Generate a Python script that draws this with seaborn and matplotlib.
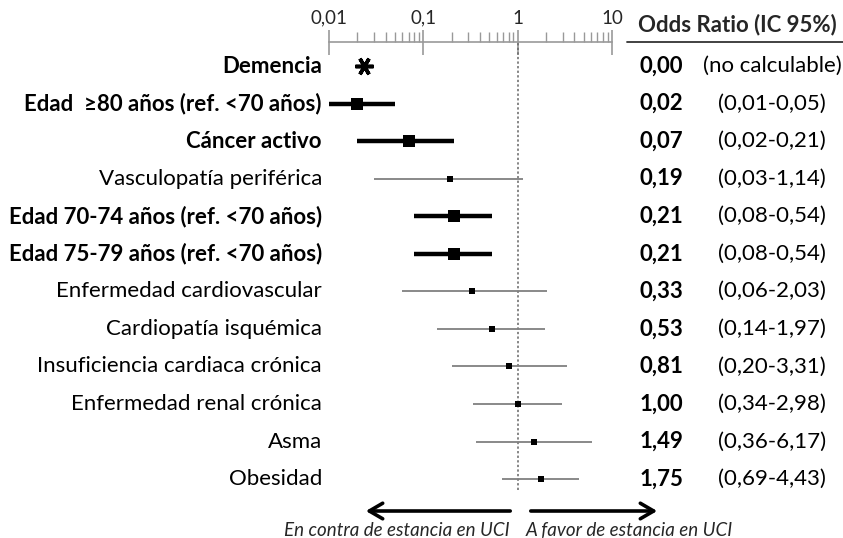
import matplotlib
matplotlib.use("Agg")
import matplotlib.pyplot as plt
import matplotlib.transforms as mtransforms
from matplotlib.ticker import LogLocator, NullFormatter, FixedLocator
import numpy as np
import pandas as pd
import seaborn as sns

labels = ["Demencia", "Edad  ≥80 años (ref. <70 años)", "Cáncer activo",
          "Vasculopatía periférica", "Edad 70-74 años (ref. <70 años)",
          "Edad 75-79 años (ref. <70 años)", "Enfermedad cardiovascular",
          "Cardiopatía isquémica", "Insuficiencia cardiaca crónica",
          "Enfermedad renal crónica", "Asma", "Obesidad"]
odds = [0.00, 0.02, 0.07, 0.19, 0.21, 0.21, 0.33, 0.53, 0.81, 1.00, 1.49, 1.75]
ci_low = [np.nan, 0.01, 0.02, 0.03, 0.08, 0.08, 0.06, 0.14, 0.20, 0.34, 0.36, 0.69]
ci_high = [np.nan, 0.05, 0.21, 1.14, 0.54, 0.54, 2.03, 1.97, 3.31, 2.98, 6.17, 4.43]
significant = [True, True, True, False, True, True, False, False, False, False, False, False]
or_text = ["0,00", "0,02", "0,07", "0,19", "0,21", "0,21", "0,33", "0,53", "0,81", "1,00", "1,49", "1,75"]
ci_text = ["(no calculable)", "(0,01-0,05)", "(0,02-0,21)", "(0,03-1,14)", "(0,08-0,54)",
           "(0,08-0,54)", "(0,06-2,03)", "(0,14-1,97)", "(0,20-3,31)", "(0,34-2,98)",
           "(0,36-6,17)", "(0,69-4,43)"]
demencia_marker_x = 0.0235  # position of asterisk (OR not calculable)
tick_values = [0.01, 0.1, 1, 10]
tick_labels = ["0,01", "0,1", "1", "10"]

sns.set_theme(style="white")
plt.rcParams['font.family'] = ['Lato', 'DejaVu Sans']

df = pd.DataFrame({"label": labels, "odds": odds, "lo": ci_low, "hi": ci_high,
                   "sig": significant, "pos": np.arange(len(labels))})

W, H = 843, 538
fig = plt.figure(figsize=(W / 100, H / 100), dpi=100)
ax_l, ax_r, ax_t, ax_b = 329, 612, 42, 490
ax = fig.add_axes([ax_l / W, 1 - ax_b / H, (ax_r - ax_l) / W, (ax_b - ax_t) / H])
ax.set_xscale("log")
ax.set_xlim(0.01, 10)
ax.set_ylim(11.29, -0.64)

# CI lines
calc = df[df["odds"] > 0]
for _, r in calc.iterrows():
    if r["sig"]:
        ax.hlines(r["pos"], r["lo"], r["hi"], color="black", lw=3.2, zorder=2)
    else:
        ax.hlines(r["pos"], r["lo"], r["hi"], color="#808080", lw=1.3, zorder=2)

sns.scatterplot(data=calc[calc["sig"]], x="odds", y="pos", marker="s", s=70,
                color="black", edgecolor="black", linewidth=0, ax=ax, zorder=3, legend=False)
sns.scatterplot(data=calc[~calc["sig"]], x="odds", y="pos", marker="s", s=18,
                color="black", edgecolor="black", linewidth=0, ax=ax, zorder=3, legend=False)
ax.plot([demencia_marker_x], [0], marker=(6, 2, 90), ms=13, mew=2.6, color="black",
        linestyle="none", zorder=3, clip_on=False)

# reference line
ax.axvline(1, color="#666666", lw=1.1, ls=(0, (1.5, 1.5)), zorder=1)

# axis styling
ax.set_xlabel("")
ax.set_ylabel("")
ax.set_yticks([])
for s in ["left", "right", "bottom"]:
    ax.spines[s].set_visible(False)
ax.spines["top"].set_color("#999999")
ax.spines["top"].set_linewidth(1.2)
ax.xaxis.tick_top()
ax.xaxis.set_major_locator(FixedLocator(tick_values))
ax.set_xticklabels(tick_labels)
ax.xaxis.set_minor_locator(LogLocator(base=10, subs=np.arange(2, 10), numticks=20))
ax.xaxis.set_minor_formatter(NullFormatter())
ax.tick_params(axis="x", which="major", direction="inout", length=18, width=1.2,
               color="#999999", labelsize=13.5, pad=2, top=True, bottom=False)
ax.tick_params(axis="x", which="minor", direction="out", length=7, width=1.0,
               color="#999999", top=True, bottom=False)
ax.patch.set_alpha(0)

# labels left
FS = 16
trans_lab = mtransforms.blended_transform_factory(fig.transFigure, ax.transData)
for i, r in df.iterrows():
    fig.text(322 / W, r["pos"], r["label"], transform=trans_lab, ha="right", va="center",
             fontsize=FS, fontweight="bold" if r["sig"] else "normal", color="black")
    fig.text(640 / W, r["pos"], or_text[i], transform=trans_lab, ha="left", va="center",
             fontsize=FS, fontweight="bold", color="black")
    fig.text(772 / W, r["pos"], ci_text[i], transform=trans_lab, ha="center", va="center",
             fontsize=FS, color="black")

# header
fig.text(737 / W, 1 - 25 / H, "Odds Ratio (IC 95%)", ha="center", va="center",
         fontsize=FS, fontweight="bold")
fig.add_artist(plt.Line2D([627 / W, 1.0], [1 - 42 / H, 1 - 42 / H], color="#333333", lw=1.3))

# direction arrows
ay = 1 - 511 / H
fig.add_artist(matplotlib.patches.FancyArrowPatch((513 / W, ay), (363 / W, ay),
               arrowstyle="->,head_length=6,head_width=3.5", lw=2.6, color="black",
               transform=fig.transFigure, mutation_scale=1.6))
fig.add_artist(matplotlib.patches.FancyArrowPatch((528 / W, ay), (660 / W, ay),
               arrowstyle="->,head_length=6,head_width=3.5", lw=2.6, color="black",
               transform=fig.transFigure, mutation_scale=1.6))
fig.text(510 / W, 1 - 531 / H, "En contra de estancia en UCI", ha="right", va="center",
         fontsize=13.5, style="italic")
fig.text(526 / W, 1 - 531 / H, "A favor de estancia en UCI", ha="left", va="center",
         fontsize=13.5, style="italic")

fig.savefig("out.png", dpi=100, facecolor="white")
